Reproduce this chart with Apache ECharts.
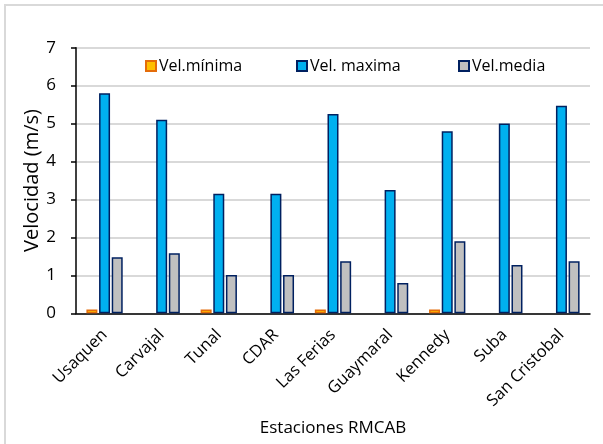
<!DOCTYPE html>
<html>
	<head>
		<meta charset="utf-8">
		<title>Velocidad del viento RMCAB</title>
		<script src="https://cdn.jsdelivr.net/npm/echarts@6/dist/echarts.min.js"></script>
	</head>
	<body style="margin:0;">
		<div id="main" style="width: 603px;height:444px;"></div>
		<script type="text/javascript">
			// estaciones y velocidades (m/s)
			var estaciones = ['Usaquen', 'Carvajal', 'Tunal', 'CDAR', 'Las Ferias', 'Guaymaral', 'Kennedy', 'Suba', 'San Cristobal'];
			var velMinima = [0.1, null, 0.1, null, 0.1, null, 0.1, null, null];
			var velMaxima = [5.8, 5.1, 3.15, 3.15, 5.25, 3.25, 4.8, 5.0, 5.47];
			var velMedia = [1.48, 1.58, 1.01, 1.01, 1.37, 0.8, 1.9, 1.27, 1.37];
			var yTicks = [0, 1, 2, 3, 4, 5, 6, 7];

			var fuente = '"Open Sans", "Liberation Sans", sans-serif';
			var myChart = echarts.init(document.getElementById('main'));

			function leyenda(nombre, x) {
				return {
					data: [nombre],
					left: x,
					top: 53,
					icon: 'rect',
					itemWidth: 10,
					itemHeight: 10,
					itemGap: 5,
					textStyle: { fontFamily: fuente, fontSize: 16, color: '#000', padding: [0, 0, 0, -2] },
				};
			}

			var option = {
				backgroundColor: '#fff',
				animation: false,
				textStyle: { fontFamily: fuente },
				graphic: [{
					type: 'rect',
					shape: { x: 5, y: 5, width: 700, height: 700 },
					style: { fill: 'none', stroke: '#d9d9d9', lineWidth: 2 },
					silent: true,
				}],
				legend: [
					leyenda('Vel.mínima', 140),
					leyenda('Vel. maxima', 291),
					leyenda('Vel.media', 453),
				],
				grid: {
					left: 76,
					right: 13,
					top: 47.7,
					bottom: 130.7,
					containLabel: false,
				},
				xAxis: {
					type: 'category',
					data: estaciones,
					name: 'Estaciones RMCAB',
					nameLocation: 'middle',
					nameGap: 106,
					nameMoveOverlap: false,
					nameTextStyle: { fontFamily: fuente, fontSize: 17, color: '#000' },
					axisLine: { lineStyle: { color: '#000', width: 1.5 } },
					axisTick: { alignWithLabel: true, length: 5, lineStyle: { color: '#000', width: 1.5 } },
					axisLabel: {
						interval: 0,
						rotate: 45,
						fontSize: 16.5,
						color: '#000',
						margin: 19,
						fontFamily: fuente,
					},
				},
				yAxis: {
					type: 'value',
					min: yTicks[0],
					max: yTicks[yTicks.length - 1],
					interval: 1,
					name: 'Velocidad (m/s)',
					nameLocation: 'middle',
					nameGap: 34,
					nameMoveOverlap: false,
					nameTextStyle: { fontFamily: fuente, fontSize: 20, color: '#000' },
					axisLine: { show: true, lineStyle: { color: '#000', width: 1.5 } },
					axisTick: { show: true, length: 5, lineStyle: { color: '#000', width: 1.5 } },
					axisLabel: { fontSize: 17, color: '#000', margin: 20, fontFamily: fuente },
					splitLine: { show: true, lineStyle: { color: '#d9d9d9', width: 2 } },
				},
				series: [{
						name: 'Vel.mínima',
						type: 'bar',
						barWidth: 11,
						barGap: '15%',
						itemStyle: { color: '#ffc000', borderColor: '#e46c0a', borderWidth: 1.5 },
						data: velMinima,
					},
					{
						name: 'Vel. maxima',
						type: 'bar',
						barWidth: 11,
						barGap: '15%',
						itemStyle: { color: '#00b0f0', borderColor: '#002060', borderWidth: 1.5 },
						data: velMaxima,
					},
					{
						name: 'Vel.media',
						type: 'bar',
						barWidth: 11,
						barGap: '15%',
						itemStyle: { color: '#c0c0c0', borderColor: '#002060', borderWidth: 1.5 },
						data: velMedia,
					},
				],
			};
			myChart.setOption(option);
		</script>
	</body>
</html>
